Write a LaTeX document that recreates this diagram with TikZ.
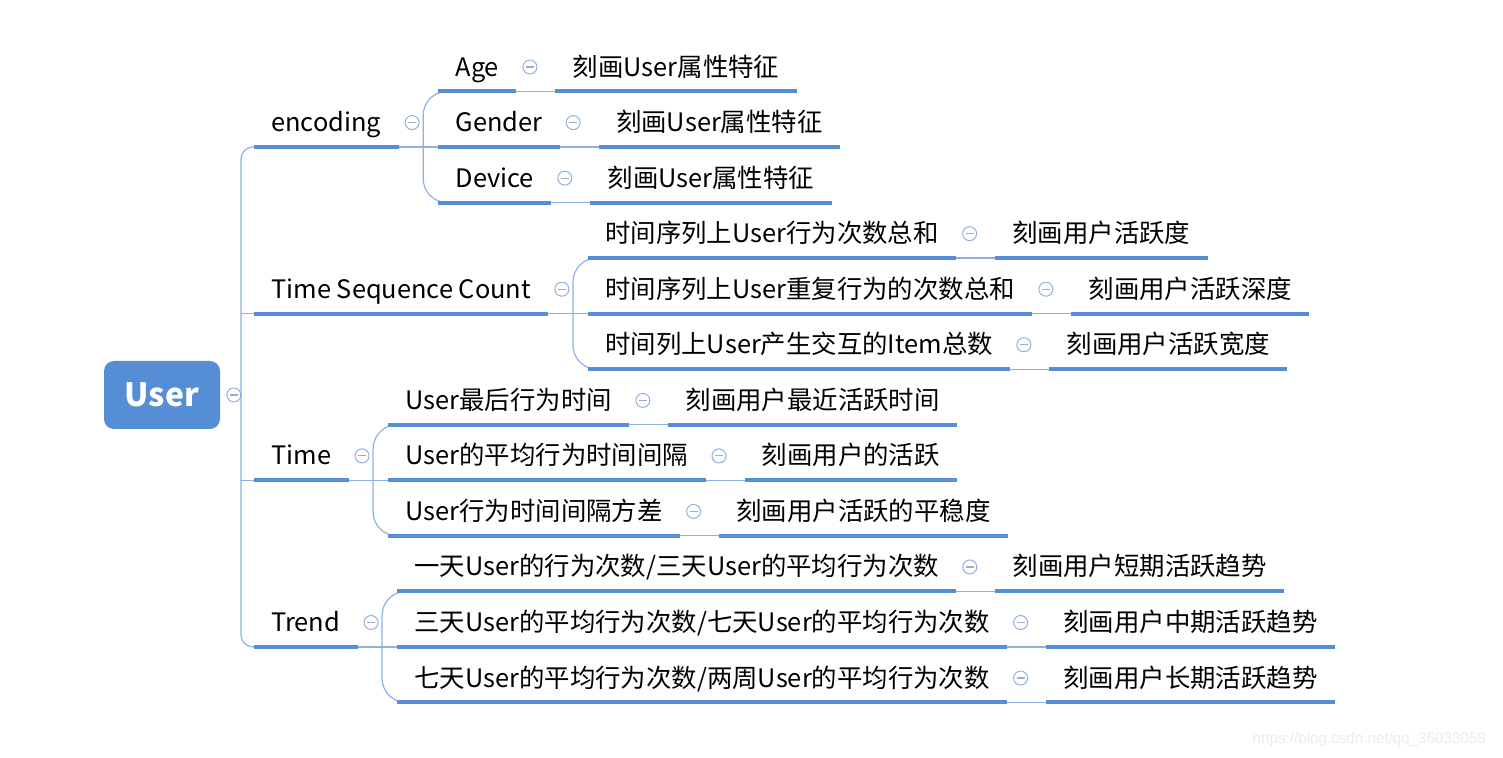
\documentclass[tikz,border=0pt]{standalone}
\usepackage{fontspec}
\setmainfont{Noto Sans CJK SC}
\newfontfamily\markfont{Liberation Sans}
\usetikzlibrary{positioning,calc}
\definecolor{mapblue}{HTML}{558ED5}
\definecolor{linkblue}{HTML}{8DB1E4}
\definecolor{foldgray}{HTML}{A3AAC2}
\tikzset{
  topic/.style={inner xsep=8.5pt, inner ysep=0pt, minimum height=24pt,
    text height=11pt, text depth=2pt, font=\fontsize{12.7pt}{15pt}\selectfont},
  uline/.style={mapblue, line width=2pt},
  link/.style={linkblue, line width=0.6pt},
  fold/.style={circle, draw=linkblue, fill=white, line width=0.5pt,
    inner sep=0pt, minimum size=7pt,
    path picture={\draw[foldgray, line width=0.6pt] (-2pt,0) -- (2pt,0);}},
}
\newcommand\foldat[1]{\node[fold, right=3pt of #1] (#1-c) {};}

\begin{document}
\begin{tikzpicture}[x=0.5pt, y=-0.5pt]
  \useasboundingbox (0,0) rectangle (1503,758);
  % root and first level
  \node[fill=mapblue, rounded corners=5pt, minimum width=58pt, minimum height=34pt,
    text=white, font=\bfseries\fontsize{16pt}{18pt}\selectfont] (user) at (162,395) {User};
  \node[fold, right=3pt of user] (user-c) {};
  \node[topic, anchor=west] (enc) at (254,122.6) {encoding};
  \node[topic, anchor=west] (tsc) at (254,289.2) {Time Sequence Count};
  \node[topic, anchor=west] (time) at (254,455.9) {Time};
  \node[topic, anchor=west] (trend) at (254,622.5) {Trend};
  \foreach \n in {enc,tsc,time,trend} \foldat{\n}
  \coordinate (trunk) at ($(enc.south west)+(-13,0)$);
  \draw[link, rounded corners=6pt] (enc.south west) -- (trunk) |- (trend.south west);
  \draw[link] (user-c.east) -- (user-c.east -| trunk);
  \foreach \n in {tsc,time} \draw[link] (\n.south west) -- (\n.south west -| trunk);
  % second level, three children per branch
  \node[topic, anchor=west] (age) at ($(enc-c)+(26,-55.55)$) {Age};
  \node[topic, anchor=west] (gender) at ($(enc-c)+(26,0)$) {Gender};
  \node[topic, anchor=west] (device) at ($(enc-c)+(26,55.55)$) {Device};
  \node[topic, anchor=west] (cnt) at ($(tsc-c)+(26,-55.55)$) {时间序列上User行为次数总和};
  \node[topic, anchor=west] (rep) at ($(tsc-c)+(26,0)$) {时间序列上User重复行为的次数总和};
  \node[topic, anchor=west] (item) at ($(tsc-c)+(26,55.55)$) {时间列上User产生交互的Item总数};
  \node[topic, anchor=west] (last) at ($(time-c)+(26,-55.55)$) {User最后行为时间};
  \node[topic, anchor=west] (gap) at ($(time-c)+(26,0)$) {User的平均行为时间间隔};
  \node[topic, anchor=west] (var) at ($(time-c)+(26,55.55)$) {User行为时间间隔方差};
  \node[topic, anchor=west] (short) at ($(trend-c)+(26,-55.55)$) {一天User的行为次数/三天User的平均行为次数};
  \node[topic, anchor=west] (mid) at ($(trend-c)+(26,0)$) {三天User的平均行为次数/七天User的平均行为次数};
  \node[topic, anchor=west] (long) at ($(trend-c)+(26,55.55)$) {七天User的平均行为次数/两周User的平均行为次数};
  \foreach \p/\a/\b/\z in {enc/age/gender/device, tsc/cnt/rep/item, time/last/gap/var, trend/short/mid/long} {
    \draw[link, rounded corners=12pt] (\a.south west) -- ++(-15,0) |- (\z.south west);
    \draw[link] (\p.south east) -- (\b.south west);
  }
  % leaves
  \foreach \n/\t in {age/刻画User属性特征, gender/刻画User属性特征, device/刻画User属性特征,
      cnt/刻画用户活跃度, rep/刻画用户活跃深度, item/刻画用户活跃宽度,
      last/刻画用户最近活跃时间, gap/刻画用户的活跃, var/刻画用户活跃的平稳度,
      short/刻画用户短期活跃趋势, mid/刻画用户中期活跃趋势, long/刻画用户长期活跃趋势} {
    \foldat{\n}
    \node[topic, right=9pt of \n-c] (\n-d) {\t};
    \draw[link] (\n.south east) -- (\n-d.south west);
    \draw[uline] (\n.south west) -- (\n.south east);
    \draw[uline] (\n-d.south west) -- (\n-d.south east);
  }
  \foreach \n in {enc,tsc,time,trend} \draw[uline] (\n.south west) -- (\n.south east);
  \node[anchor=east, text=black!8, font=\markfont\fontsize{7.6pt}{9pt}\selectfont] (mark) at (1493,740) {https://blog.csdn.net/qq\_36033058};
\end{tikzpicture}
\end{document}
